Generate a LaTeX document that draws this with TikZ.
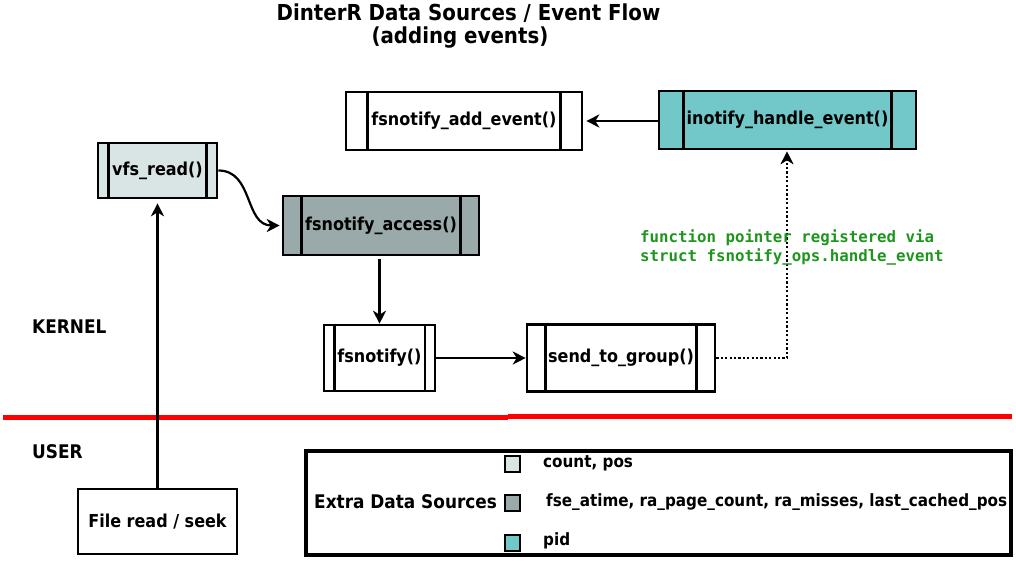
\documentclass[tikz,border=0pt]{standalone}
\usepackage{fontspec}
\setmainfont{DejaVu Sans Condensed}
\setmonofont{DejaVu Sans Mono}
\usetikzlibrary{arrows.meta,positioning}

\definecolor{srclight}{HTML}{D9E5E4}
\definecolor{srcgrey}{HTML}{9AAAAA}
\definecolor{srcteal}{HTML}{72C8C8}
\definecolor{notegreen}{RGB}{30,150,30}
\definecolor{linered}{RGB}{255,0,0}

\begin{document}
\begin{tikzpicture}[x=1pt,y=-1pt,
  proc/.style={draw=black,line width=2.6pt,fill=white,inner sep=0pt,
    font=\fontsize{17.8}{21}\selectfont\bfseries},
  bar/.style={line width=2.6pt},
  flow/.style={line width=2.2pt,-{Stealth[length=13pt,width=13pt,inset=4pt]}},
  lbl/.style={font=\fontsize{18.8}{22}\selectfont\bfseries,inner sep=0pt},
  item/.style={font=\fontsize{16.9}{20}\selectfont\bfseries,inner sep=0pt,anchor=west},
  swatch/.style={draw=black,line width=1.5pt,minimum width=15pt,minimum height=16pt,inner sep=0pt}]
\useasboundingbox (0,0) rectangle (1016,560);

% title
\node[lbl,font=\fontsize{22}{25}\selectfont\bfseries] (title) at (468.5,13) {DinterR Data Sources / Event Flow};
\node[lbl,font=\fontsize{22}{25}\selectfont\bfseries] (subtitle) at (460,38) {(adding events)};

% kernel / user split
\draw[linered,line width=5.5pt] (3,417.5) -- (508,417.5);
\draw[linered,line width=5.5pt] (508,416.5) -- (1012,416.5);
\node[lbl,anchor=west] (kernel) at (32,327) {KERNEL};
\node[lbl,anchor=west] (user) at (32,452) {USER};

% functions
\node[proc,fill=srclight,minimum width=119pt,minimum height=55pt] (vfs) at (157.5,170.5) {vfs\_read()};
\node[proc,fill=srcgrey,minimum width=196pt,minimum height=59pt] (access) at (381,225.5) {fsnotify\_access()};
\node[proc,minimum width=236pt,minimum height=58pt] (addev) at (464,121) {fsnotify\_add\_event()};
\node[proc,fill=srcteal,minimum width=257pt,minimum height=58pt] (inotify) at (787.5,120) {inotify\_handle\_event()};
\node[proc,minimum width=111pt,minimum height=66pt] (fsn) at (379.5,358) {fsnotify()};
\node[proc,minimum width=188pt,minimum height=67pt] (send) at (621,358) {send\_to\_group()};
\node[proc,minimum width=159pt,minimum height=65pt] (file) at (157.5,521.5) {File read / seek};

\foreach \n/\d in {vfs/12,access/20,addev/23,inotify/26,fsn/11.5,send/20} {
  \draw[bar] ([xshift=\d pt]\n.north west) -- ([xshift=\d pt]\n.south west);
  \draw[bar] ([xshift=-\d pt]\n.north east) -- ([xshift=-\d pt]\n.south east);
}

% connectors
\draw[flow] (file.north) -- ([yshift=-4pt]vfs.south);
\draw[flow] (vfs.east) to[out=0,in=180,looseness=1.1] ([xshift=-2pt]access.west);
\draw[flow] ([yshift=-3pt]access.south -| fsn.north) -- (fsn.north);
\draw[flow] (fsn.east) -- (send.west);
\coordinate (bend) at (787,358);
\draw[flow,dash pattern=on 2.2pt off 2.2pt] (send.east) -- (bend) -- ([yshift=-1pt]inotify.south -| bend);
\draw[flow] (inotify.west |- addev.east) -- ([xshift=3pt]addev.east);

\node[font=\fontsize{15.75}{19}\selectfont\ttfamily\bfseries,text=notegreen,align=left,anchor=west,inner sep=0pt]
  (note) at (640,247.5) {function pointer registered via\\struct fsnotify\_ops.handle\_event};

% legend
\node[draw=black,line width=4pt,minimum width=705pt,minimum height=104pt,inner sep=0pt] (legend) at (658.5,503) {};
\node[lbl,anchor=west] (legtitle) at (314,502) {Extra Data Sources};
\node[swatch,fill=srclight] (sw1) at (512.5,464) {};
\node[swatch,fill=srcgrey] (sw2) at (512.5,503) {};
\node[swatch,fill=srcteal] (sw3) at (512.5,543) {};
\node[item] (it1) at (543,463) {count, pos};
\node[item] (it2) at (546,502) {fse\_atime, ra\_page\_count, ra\_misses, last\_cached\_pos};
\node[item] (it3) at (543,541) {pid};
\end{tikzpicture}
\end{document}
